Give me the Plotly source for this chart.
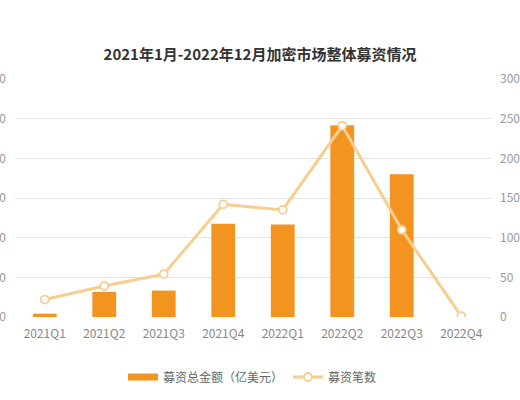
import plotly.graph_objects as go

categories = ["2021Q1", "2021Q2", "2021Q3", "2021Q4", "2022Q1", "2022Q2", "2022Q3", "2022Q4"]
amount = [2.5, 19, 20, 70.5, 70, 145, 108, 0]      # 募资总金额（亿美元）
count = [22, 39, 54, 142, 135, 241, 110, 1]         # 募资笔数
left_ticks = [0, 30, 60, 90, 120, 150, 180]
right_ticks = [0, 50, 100, 150, 200, 250, 300]

BAR = "#F39420"
LINE = "#F8CD90"
FONT = "Noto Sans CJK SC"

fig = go.Figure()
fig.add_trace(go.Bar(
    x=categories, y=amount, name="募资总金额（亿美元）", legendgroup="amt",
    showlegend=False,
    marker=dict(color=BAR, line=dict(width=0)), width=0.4, yaxis="y",
))
# legend entry for the bar series drawn as a wide flat swatch
fig.add_trace(go.Scatter(
    x=[categories[0]], y=[None], name="募资总金额（亿美元）", legendgroup="amt",
    mode="lines", line=dict(color=BAR, width=7), yaxis="y", hoverinfo="skip",
))
fig.add_trace(go.Scatter(
    x=categories, y=count, name="募资笔数", mode="lines+markers",
    line=dict(color=LINE, width=3),
    marker=dict(size=8, color="white", line=dict(color=LINE, width=1.8)),
    yaxis="y2",
))

fig.update_layout(
    width=520, height=400,
    margin=dict(l=15, r=29, t=79, b=83, autoexpand=False),
    paper_bgcolor="white", plot_bgcolor="white",
    font=dict(family=FONT, color="#888888", size=12),
    title=dict(text="<b>2021年1月-2022年12月加密市场整体募资情况</b>",
               x=0.5, xanchor="center", y=1 - 55 / 400, yanchor="middle",
               font=dict(size=15, color="#333333", family=FONT)),
    xaxis=dict(showgrid=False, showline=False, ticks="", automargin=False,
               ticklabelstandoff=8,
               tickfont=dict(size=12, color="#888888")),
    yaxis=dict(range=[0, 180], tickvals=left_ticks, showgrid=True,
               gridcolor="#E3E3E3", gridwidth=1, zeroline=False, showline=False,
               ticks="", automargin=False, ticklabelstandoff=8,
               tickfont=dict(size=12, color="#999999")),
    yaxis2=dict(range=[0, 300], tickvals=right_ticks, overlaying="y", side="right",
                showgrid=False, zeroline=False, showline=False, ticks="",
                automargin=False, ticklabelstandoff=8,
                tickfont=dict(size=12, color="#999999")),
    legend=dict(orientation="h", x=(123 - 15) / 476, xanchor="left",
                y=-(377 - 317) / 238, yanchor="middle",
                font=dict(size=12, color="#666666"), itemwidth=30),
    bargap=0.6,
)

fig.write_html("out.html", config={"displayModeBar": False},
               post_script="document.body.style.margin='0';")
